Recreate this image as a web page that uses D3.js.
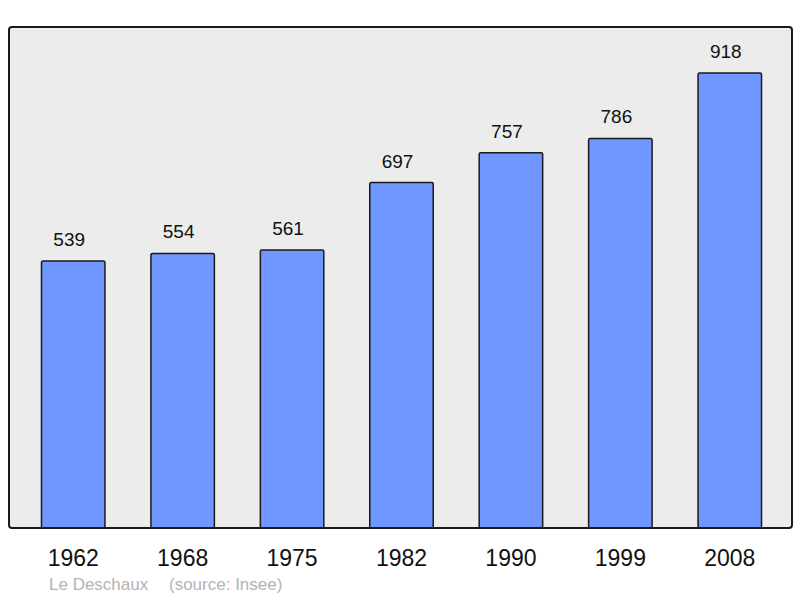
<!DOCTYPE html>
<html>
<head>
<meta charset="utf-8">
<script src="https://cdn.jsdelivr.net/npm/d3@7"></script>
<style>
  body { margin: 0; background: #fff; }
  svg { display: block; font-family: "Liberation Sans", Arial, sans-serif; }
</style>
</head>
<body>
<svg id="chart"></svg>
<script>
// data
const years = ["1962", "1968", "1975", "1982", "1990", "1999", "2008"]
const population = [539, 554, 561, 697, 757, 786, 918]
const townName = "Le Deschaux"
const sourceText = "(source: Insee)"

const width = 800
const height = 598

const frame = { left: 9, top: 27, right: 792, bottom: 528 }

const svg = d3.select("#chart")
              .attr("width", width)
              .attr("height", height)

const x = d3.scaleBand()
            .domain(years)
            .range([18.5, 784.5])
            .paddingInner(0.42)
            .paddingOuter(0.21)

const y = d3.scaleLinear()
            .domain([0, 1011])
            .range([frame.bottom, frame.top])

// plot background
svg.append("rect")
   .attr("x", frame.left)
   .attr("y", frame.top)
   .attr("width", frame.right - frame.left)
   .attr("height", frame.bottom - frame.top)
   .attr("rx", 3)
   .attr("fill", "#ececec")

// bars
svg.selectAll(".bar")
   .data(population)
   .enter()
   .append("rect")
   .attr("class", "bar")
   .attr("x", (d, i) => x(years[i]))
   .attr("y", d => y(d))
   .attr("width", x.bandwidth())
   .attr("height", d => y(0) - y(d))
   .attr("rx", 1.5)
   .attr("fill", "#7096ff")
   .attr("stroke", "#1a1a1a")
   .attr("stroke-width", 1.5)

// value labels
svg.selectAll(".valueLabel")
   .data(population)
   .enter()
   .append("text")
   .attr("class", "valueLabel")
   .attr("x", (d, i) => x(years[i]) + x.bandwidth() / 2 - 4)
   .attr("y", d => y(d) - 15)
   .attr("text-anchor", "middle")
   .attr("font-size", 19)
   .attr("fill", "#111")
   .text(d => d)

// frame outline on top
svg.append("rect")
   .attr("x", frame.left)
   .attr("y", frame.top)
   .attr("width", frame.right - frame.left)
   .attr("height", frame.bottom - frame.top)
   .attr("rx", 3)
   .attr("fill", "none")
   .attr("stroke", "#1a1a1a")
   .attr("stroke-width", 2)

// year axis labels
const xAxis = d3.axisBottom(x).tickSize(0).tickPadding(0)
const axisG = svg.append("g")
                 .attr("transform", "translate(0," + frame.bottom + ")")
                 .call(xAxis)
axisG.select(".domain").remove()
axisG.selectAll("text")
     .attr("y", 38)
     .attr("dy", null)
     .attr("font-size", 23)
     .attr("font-family", "Liberation Sans, Arial, sans-serif")
     .attr("fill", "#111")

// caption
svg.append("text")
   .attr("x", 49)
   .attr("y", 590)
   .attr("font-size", 17)
   .attr("fill", "#b3b3b3")
   .text(townName)

svg.append("text")
   .attr("x", 169)
   .attr("y", 590)
   .attr("font-size", 17)
   .attr("fill", "#b3b3b3")
   .text(sourceText)
</script>
</body>
</html>
